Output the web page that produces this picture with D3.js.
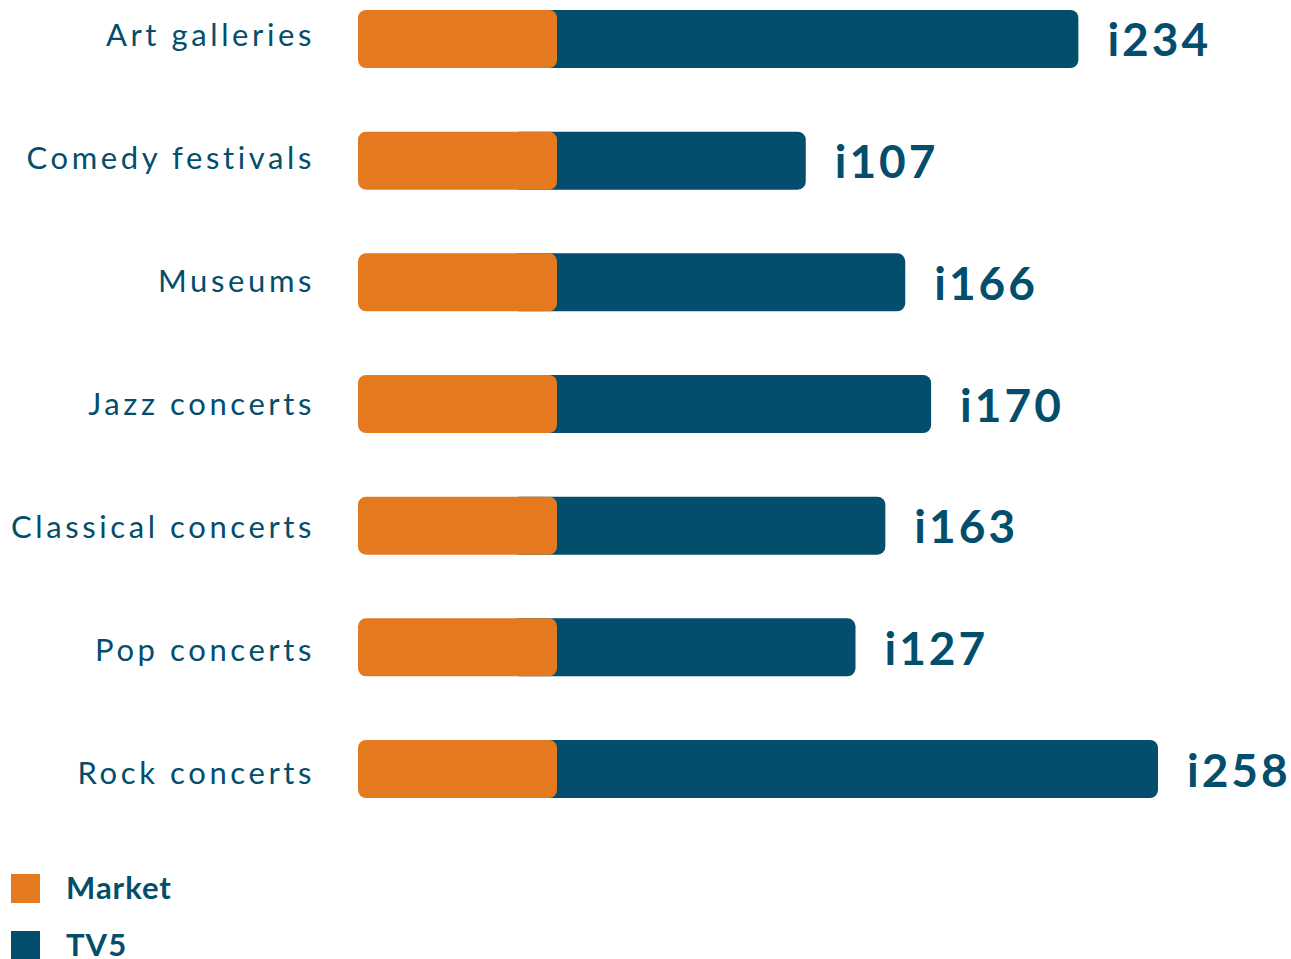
<!DOCTYPE html>
<html>
<head>
<meta charset="utf-8">
<script src="https://cdn.jsdelivr.net/npm/d3@7"></script>
<style>
  html, body { margin: 0; padding: 0; background: #fff; }
  svg { display: block; }
  text { font-family: Lato, "Open Sans", sans-serif; }
</style>
</head>
<body>
<svg id="chart" width="1291" height="959"></svg>
<script>
// Cultural activities: market baseline vs. TV5 audience
const categories = ["Art galleries", "Comedy festivals", "Museums", "Jazz concerts",
                    "Classical concerts", "Pop concerts", "Rock concerts"];
const marketValues = [100, 100, 100, 100, 100, 100, 100];
const tv5Values = [362, 225, 275, 288, 265, 250, 402];
const indexValues = [234, 107, 166, 170, 163, 127, 258];
const seriesNames = ["Market", "TV5"];
const seriesColors = ["#E47920", "#034E6C"];

const svg = d3.select("#chart");
const left = 358;

const x = d3.scaleLinear().domain([0, 100]).range([left, left + 199]);
const y = d3.scaleBand().domain(categories).range([10, 798]).paddingInner(0.5233).paddingOuter(0);
// category label column has its own, slightly wider spacing
const yLabel = d3.scalePoint().domain(categories).range([34, 772]);

const rows = svg.selectAll("g.row")
  .data(categories.map((c, i) => ({ c, m: marketValues[i], t: tv5Values[i], idx: indexValues[i] })))
  .join("g")
  .attr("class", "row");

// TV5 bar (sits behind the market bar)
rows.append("rect")
  .attr("x", x(77))
  .attr("y", d => y(d.c))
  .attr("width", d => x(d.t) - x(77))
  .attr("height", y.bandwidth())
  .attr("rx", 8)
  .attr("fill", seriesColors[1]);

// Market bar
rows.append("rect")
  .attr("x", x(0))
  .attr("y", d => y(d.c))
  .attr("width", d => x(d.m) - x(0))
  .attr("height", y.bandwidth())
  .attr("rx", 8)
  .attr("fill", seriesColors[0]);

// Category labels
rows.append("text")
  .attr("x", 315)
  .attr("y", d => yLabel(d.c))
  .attr("text-anchor", "end")
  .attr("dominant-baseline", "central")
  .attr("font-size", 31)
  .attr("letter-spacing", 3.6)
  .attr("fill", seriesColors[1])
  .text(d => d.c);

// Index labels
rows.append("text")
  .attr("x", d => x(d.t) + 29)
  .attr("y", d => y(d.c) + y.bandwidth() / 2)
  .attr("dominant-baseline", "central")
  .attr("font-size", 46)
  .attr("font-weight", 700)
  .attr("letter-spacing", 3)
  .attr("fill", seriesColors[1])
  .text(d => "i" + d.idx);

// Legend
const legend = svg.selectAll("g.legend")
  .data(seriesNames)
  .join("g")
  .attr("class", "legend")
  .attr("transform", (d, i) => `translate(11, ${874 + i * 57})`);

legend.append("rect")
  .attr("width", 29)
  .attr("height", 29)
  .attr("fill", (d, i) => seriesColors[i]);

legend.append("text")
  .attr("x", 55)
  .attr("y", 13)
  .attr("dominant-baseline", "central")
  .attr("font-size", 31)
  .attr("font-weight", 700)
  .attr("letter-spacing", 1)
  .attr("fill", seriesColors[1])
  .text(d => d);
</script>
</body>
</html>
